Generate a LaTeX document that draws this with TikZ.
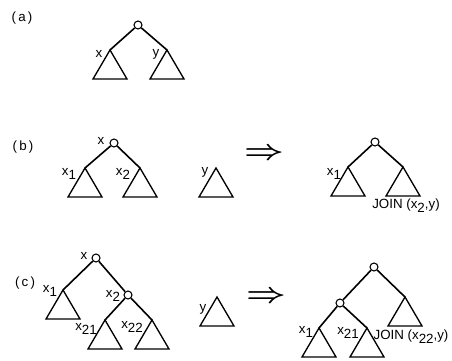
\documentclass[tikz,border=0pt]{standalone}
\usepackage{fontspec}
\setmainfont{Liberation Sans}
\usetikzlibrary{positioning}
\newcommand{\lo}[1]{\raisebox{-.6ex}{#1}}
\newcommand{\subtree}[1]{\draw[tri] (#1) -- ++(-17,29) -- ++(34,0) -- cycle;}

\begin{document}
\begin{tikzpicture}[x=0.75pt, y=-0.75pt, every node/.style={font=\normalsize},
    knot/.style={circle, draw, line width=0.8pt, inner sep=0pt, minimum size=6pt},
    branch/.style={line width=1.2pt},
    tri/.style={line width=1pt},
    impl/.style={font=\huge\boldmath, xscale=1.25}]
  \useasboundingbox (0,0) rectangle (452,360);

  % (a)
  \node (la) at (22,18) {(\,a\,)};
  \node[knot] (ra) at (138,25) {};
  \coordinate (ax) at (110,50);
  \coordinate (ay) at (167,50);
  \draw[branch] (ra) -- (ax);
  \draw[branch] (ra) -- (ay);
  \subtree{ax}
  \subtree{ay}
  \node (tx) at (99,54) {x};
  \node (ty) at (156,54) {y};

  % (b)
  \node (lb) at (23,147) {(\,b\,)};
  \node[knot] (rb) at (114,143) {};
  \coordinate (bx1) at (85,168);
  \coordinate (bx2) at (140,168);
  \coordinate (by) at (216,168);
  \draw[branch] (rb) -- (bx1);
  \draw[branch] (rb) -- (bx2);
  \subtree{bx1}
  \subtree{bx2}
  \subtree{by}
  \node (tbx) at (101,141) {x};
  \node (tbx1) at (69,174) {x\lo{1}};
  \node (tbx2) at (123,174) {x\lo{2}};
  \node (tby) at (205,172) {y};
  \node[impl] (arrb) at (264,154) {$\Rightarrow$};

  \node[knot] (rb2) at (375,142) {};
  \coordinate (bx1r) at (348,167);
  \coordinate (bjr) at (403,167);
  \draw[branch] (rb2) -- (bx1r);
  \draw[branch] (rb2) -- (bjr);
  \subtree{bx1r}
  \subtree{bjr}
  \node (tbx1r) at (334,174) {x\lo{1}};
  \node (tbj) at (406,206) {JOIN (x\lo{2},y)};

  % (c)
  \node (lc) at (25,283) {(\,c\,)};
  \node[knot] (rc) at (96,258) {};
  \node[knot] (cx2) at (128,295) {};
  \coordinate (cx1) at (63,290);
  \coordinate (cx21) at (105,320);
  \coordinate (cx22) at (152,320);
  \coordinate (cy) at (217,297);
  \draw[branch] (rc) -- (cx1);
  \draw[branch] (rc) -- (cx2);
  \draw[branch] (cx2) -- (cx21);
  \draw[branch] (cx2) -- (cx22);
  \subtree{cx1}
  \subtree{cx21}
  \subtree{cx22}
  \subtree{cy}
  \node (tcx) at (84,256) {x};
  \node (tcx1) at (50,291) {x\lo{1}};
  \node (tcx2) at (113,296) {x\lo{2}};
  \node (tcx21) at (86,329) {x\lo{21}};
  \node (tcx22) at (132,327) {x\lo{22}};
  \node (tcy) at (203,309) {y};
  \node[impl] (arrc) at (266,297) {$\Rightarrow$};

  \node[knot] (rc2) at (374,267) {};
  \node[knot] (cl2) at (340,303) {};
  \coordinate (cjr) at (405,297);
  \coordinate (cx1r) at (319,328);
  \coordinate (cx21r) at (367,328);
  \draw[branch] (rc2) -- (cl2);
  \draw[branch] (rc2) -- (cjr);
  \draw[branch] (cl2) -- (cx1r);
  \draw[branch] (cl2) -- (cx21r);
  \subtree{cjr}
  \subtree{cx1r}
  \subtree{cx21r}
  \node (tcx1r) at (306,332) {x\lo{1}};
  \node (tcx21r) at (348,333) {x\lo{21}};
  \node[anchor=west, inner sep=1pt] (tcj) at (372,337) {JOIN (x\lo{22},y)};
\end{tikzpicture}
\end{document}
